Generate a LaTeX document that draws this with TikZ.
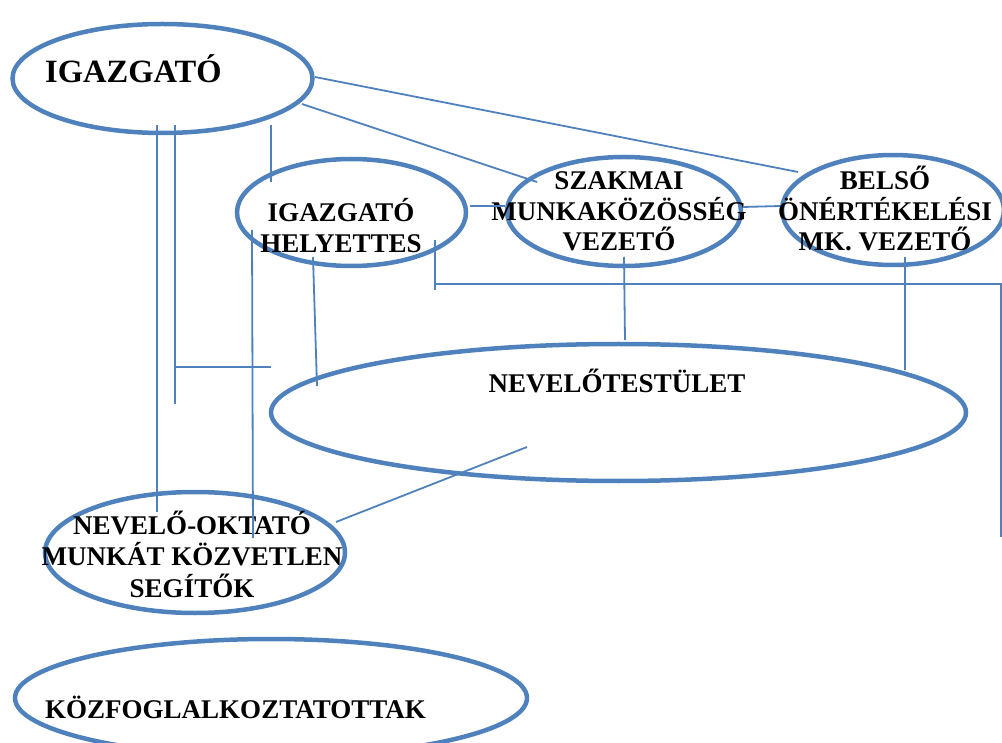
\documentclass[tikz,border=0pt]{standalone}
\usepackage{fontspec}
\setmainfont{Liberation Serif}
\usetikzlibrary{shapes.geometric}
\definecolor{ob}{HTML}{4F81BD}
\newcommand{\lnstrut}{\rule[-6pt]{0pt}{30.5pt}}
\newcommand{\widestrut}{\rule[-6pt]{0pt}{31.5pt}}
\begin{document}
\begin{tikzpicture}[x=1pt,y=-1pt,
  oval/.style={ellipse, draw=ob, line width=4.5pt, inner sep=0pt, outer sep=0pt},
  conn/.style={draw=ob, line width=1.8pt},
  lbl/.style={font=\fontsize{27}{30.5}\selectfont\bfseries, inner sep=0pt, align=center, text=black},
  widelbl/.style={font=\fontsize{27}{31.5}\selectfont\bfseries, inner sep=0pt, align=center, text=black},
  biglbl/.style={font=\fontsize{32.5}{36}\selectfont\bfseries, inner sep=0pt, text=black},
]
\useasboundingbox (0,0) rectangle (1002,743);
\clip (0,0) rectangle (1002,743);

% ellipses
\node[oval, minimum width=300pt, minimum height=109pt] (igazgato) at (162.5,78.5) {};
\node[oval, minimum width=229pt, minimum height=107pt] (helyettes) at (351.5,212.5) {};
\node[oval, minimum width=234pt, minimum height=109pt] (szakmai) at (624,211.5) {};
\node[oval, minimum width=222pt, minimum height=110pt] (belso) at (893,210) {};
\node[oval, minimum width=695pt, minimum height=137pt] (testulet) at (618.5,412.5) {};
\node[oval, minimum width=300pt, minimum height=121pt] (segitok) at (195,552.5) {};
\node[oval, minimum width=512pt, minimum height=118pt] (kozfog) at (271,698) {};

% labels
\node[biglbl, anchor=base west] (t-igazgato) at (45,83) {IGAZGATÓ};
\node[lbl] (t-helyettes) at (341,228) {\lnstrut IGAZGATÓ\\\lnstrut HELYETTES};
\node[lbl] (t-szakmai) at (619,211.25) {\lnstrut SZAKMAI\\\lnstrut MUNKAKÖZÖSSÉG\\\lnstrut VEZETŐ};
\node[lbl] (t-belso) at (885,211.25) {\lnstrut BELSŐ\\\lnstrut ÖNÉRTÉKELÉSI\\\lnstrut MK. VEZETŐ};
\node[lbl, anchor=base] (t-testulet) at (617,393) {NEVELŐTESTÜLET};
\node[widelbl] (t-segitok) at (192,556) {\widestrut NEVELŐ-OKTATÓ\\\widestrut MUNKÁT KÖZVETLEN\\\widestrut SEGÍTŐK};
\node[lbl, anchor=base west] (t-kozfog) at (45,718) {KÖZFOGLALKOZTATOTTAK};

% connector end points
\coordinate (a1) at (315,77);   \coordinate (a2) at (798,172);
\coordinate (b1) at (302,104);  \coordinate (b2) at (537,182);
\coordinate (c1) at (271,125);  \coordinate (c2) at (271,182);
\coordinate (d1) at (157,125);  \coordinate (d2) at (157,512);
\coordinate (e1) at (175,125);  \coordinate (e2) at (175,404);
\coordinate (e3) at (175,367);  \coordinate (e4) at (271,367);
\coordinate (f1) at (252,230);  \coordinate (f2) at (253,538);
\coordinate (g1) at (313,257);  \coordinate (g2) at (317,386);
\coordinate (h1) at (435,240);  \coordinate (h2) at (435,290);
\coordinate (h3) at (435,284);  \coordinate (h4) at (1001,284);
\coordinate (h5) at (1001,537);
\coordinate (i1) at (470,206);  \coordinate (i2) at (505,206);
\coordinate (j1) at (743,207);  \coordinate (j2) at (780,206);
\coordinate (k1) at (624,257);  \coordinate (k2) at (625,340);
\coordinate (l1) at (905,257);  \coordinate (l2) at (905,370);
\coordinate (m1) at (336,522);  \coordinate (m2) at (527,447);

% connectors
\draw[conn] (a1) -- (a2);
\draw[conn] (b1) -- (b2);
\draw[conn] (c1) -- (c2);
\draw[conn] (d1) -- (d2);
\draw[conn] (e1) -- (e2);
\draw[conn] (e3) -- (e4);
\draw[conn] (f1) -- (f2);
\draw[conn] (g1) -- (g2);
\draw[conn] (h1) -- (h2);
\draw[conn] (h3) -- (h4) -- (h5);
\draw[conn] (i1) -- (i2);
\draw[conn] (j1) -- (j2);
\draw[conn] (k1) -- (k2);
\draw[conn] (l1) -- (l2);
\draw[conn] (m1) -- (m2);
\end{tikzpicture}
\end{document}
